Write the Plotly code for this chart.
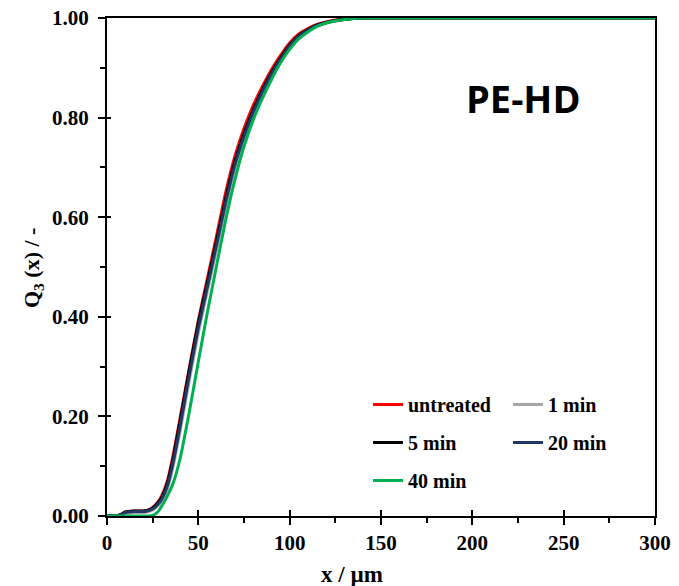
import plotly.graph_objects as go

x_um = [0, 5, 8, 10, 15, 20, 22, 25, 28, 30, 33, 36, 40, 45, 50, 55, 60, 65, 70, 75,
        80, 85, 90, 95, 100, 105, 110, 115, 120, 125, 130, 135, 140, 150, 200, 250, 300]

q_untreated = [0, 0, 0.004, 0.008, 0.010, 0.010, 0.011, 0.017, 0.029, 0.041, 0.070, 0.118,
               0.196, 0.296, 0.392, 0.478, 0.563, 0.650, 0.722, 0.778, 0.824, 0.862, 0.896,
               0.925, 0.950, 0.968, 0.979, 0.987, 0.992, 0.996, 0.998, 0.999, 1.0, 1.0, 1.0, 1.0, 1.0]
q_1min = [0, 0, 0.002, 0.005, 0.007, 0.007, 0.008, 0.012, 0.021, 0.030, 0.054, 0.096,
          0.170, 0.271, 0.368, 0.452, 0.536, 0.622, 0.698, 0.757, 0.806, 0.848, 0.884,
          0.915, 0.942, 0.962, 0.975, 0.984, 0.990, 0.994, 0.997, 0.999, 1.0, 1.0, 1.0, 1.0, 1.0]
q_5min = [0, 0, 0.004, 0.008, 0.010, 0.010, 0.011, 0.016, 0.027, 0.038, 0.066, 0.112,
          0.190, 0.292, 0.388, 0.470, 0.553, 0.638, 0.712, 0.768, 0.815, 0.855, 0.890,
          0.920, 0.946, 0.965, 0.977, 0.986, 0.991, 0.995, 0.998, 0.999, 1.0, 1.0, 1.0, 1.0, 1.0]
q_20min = [0, 0, 0.003, 0.007, 0.009, 0.009, 0.010, 0.014, 0.024, 0.034, 0.060, 0.104,
           0.180, 0.282, 0.378, 0.461, 0.545, 0.630, 0.705, 0.762, 0.810, 0.851, 0.887,
           0.917, 0.944, 0.963, 0.976, 0.985, 0.991, 0.995, 0.997, 0.999, 1.0, 1.0, 1.0, 1.0, 1.0]
q_40min = [0, 0, 0, 0, 0, 0, 0, 0.001, 0.009, 0.020, 0.040, 0.064,
           0.115, 0.208, 0.310, 0.410, 0.503, 0.595, 0.675, 0.742, 0.795, 0.838, 0.876,
           0.910, 0.937, 0.958, 0.972, 0.983, 0.990, 0.994, 0.997, 0.999, 1.0, 1.0, 1.0, 1.0, 1.0]

series_names = ["untreated", "1 min", "5 min", "20 min", "40 min"]
series_values = [q_untreated, q_1min, q_5min, q_20min, q_40min]
series_colors = ["#FF0000", "#A6A6A6", "#000000", "#1F3864", "#00B050"]
series_legend = ["legend", "legend2", "legend", "legend2", "legend"]

x_ticks = [0, 50, 100, 150, 200, 250, 300]
y_ticks = [0.0, 0.2, 0.4, 0.6, 0.8, 1.0]

SERIF = "Liberation Serif"

W, H = 679, 586
ML, MR, MT, MB = 107, 24, 18, 70
PW, PH = W - ML - MR, H - MT - MB


def px_x(p):
    return (p - ML) / PW


def px_y(p):
    return (H - MB - p) / PH


fig = go.Figure()
for name, vals, col, leg in zip(series_names, series_values, series_colors, series_legend):
    fig.add_trace(go.Scatter(
        x=x_um, y=vals, mode="lines", name=name,
        line=dict(color=col, width=3, shape="spline", smoothing=0.5),
        legend=leg, legendgroup=name,
    ))

fig.add_trace(go.Scatter(x=[None], y=[None], xaxis="x2", yaxis="y2", showlegend=False,
                         hoverinfo="skip"))

tickfont = dict(family=SERIF, size=21, color="black", weight="bold")
legfont = dict(family=SERIF, size=20, color="black", weight="bold")
titlefont = dict(family=SERIF, size=23, color="black", weight="bold")

fig.update_layout(
    width=W, height=H,
    margin=dict(l=ML, r=MR, t=MT, b=MB, autoexpand=False),
    paper_bgcolor="white", plot_bgcolor="white",
    xaxis=dict(range=[0, 300], tickvals=x_ticks, ticktext=[str(v) for v in x_ticks],
               showline=True, linecolor="black", linewidth=2, mirror=True,
               ticks="outside", ticklen=7, tickwidth=2, tickcolor="black",
               minor=dict(tickvals=[25, 75, 125, 175, 225, 275], ticks="outside",
                          ticklen=5, tickwidth=2, tickcolor="black"),
               showgrid=False, zeroline=False, tickfont=tickfont, automargin=False,
               ticklabeloverflow="allow"),
    yaxis=dict(range=[0, 1], tickvals=y_ticks, ticktext=[f"{v:.2f}" for v in y_ticks],
               showline=True, linecolor="black", linewidth=2, mirror=True,
               ticks="outside", ticklen=7, tickwidth=2, tickcolor="black",
               minor=dict(tickvals=[0.1, 0.3, 0.5, 0.7, 0.9], ticks="outside",
                          ticklen=5, tickwidth=2, tickcolor="black"),
               showgrid=False, zeroline=False, tickfont=tickfont, automargin=False,
               ticklabeloverflow="allow", ticklabelstandoff=5),
    xaxis2=dict(range=[0, 300], overlaying="x", anchor="y2", tickvals=x_ticks,
                ticks="inside", ticklen=6, tickwidth=2, tickcolor="black",
                showticklabels=False, showgrid=False, zeroline=False, showline=False),
    yaxis2=dict(range=[0, 1], overlaying="y", anchor="x2", tickvals=y_ticks,
                ticks="inside", ticklen=4, tickwidth=2, tickcolor="black",
                showticklabels=False, showgrid=False, zeroline=False, showline=False),
    legend=dict(x=px_x(368), y=px_y(385), xanchor="left", yanchor="top",
                bgcolor="rgba(0,0,0,0)", font=legfont, tracegroupgap=9,
                orientation="v"),
    legend2=dict(x=px_x(508), y=px_y(385), xanchor="left", yanchor="top",
                 bgcolor="rgba(0,0,0,0)", font=legfont, tracegroupgap=9,
                 orientation="v"),
    annotations=[
        dict(text="PE-HD", x=px_x(523), y=px_y(98), xanchor="center", yanchor="middle",
             xref="paper", yref="paper", showarrow=False,
             font=dict(family="Open Sans", size=38, color="black", weight="bold")),
        dict(text="x / µm", x=px_x(352), y=px_y(574), xanchor="center", yanchor="middle",
             xref="paper", yref="paper", showarrow=False, font=titlefont),
        dict(text="Q<sub>3</sub> (x) / -", x=px_x(33), y=px_y(268), xanchor="center",
             yanchor="middle", textangle=-90,
             xref="paper", yref="paper", showarrow=False,
             font=dict(family=SERIF, size=22, color="black", weight="bold")),
    ],
    showlegend=True,
)

fig.write_html("out.html", config={"displayModeBar": False},
               post_script="document.body.style.margin='0';document.body.style.overflow='hidden';")
